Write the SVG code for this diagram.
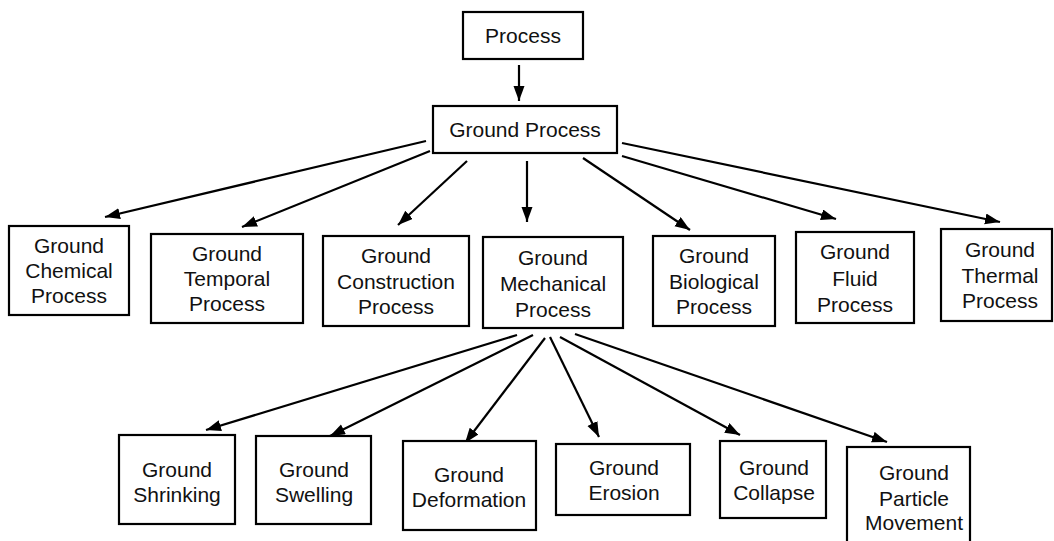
<svg xmlns="http://www.w3.org/2000/svg" width="1054" height="541" viewBox="0 0 1054 541">
<defs>
<marker id="ah" markerUnits="userSpaceOnUse" markerWidth="16" markerHeight="12" refX="15" refY="5.5" orient="auto">
<path d="M0,0 L15,5.5 L0,11 z" fill="#000"/>
</marker>
<style>
.box{fill:#fff;stroke:#000;stroke-width:2.2}
text{font-family:"Liberation Sans",Arial,Helvetica,sans-serif;font-size:21px;fill:#111;text-anchor:middle}
.c line{stroke:#000;stroke-width:2.2;marker-end:url(#ah)}
</style>
</defs>
<rect width="1054" height="541" fill="#fff"/>
<g class="c" id="connectors">
<line x1="519" y1="65" x2="519" y2="101"/>
<line x1="426" y1="141" x2="105" y2="217"/>
<line x1="430" y1="151" x2="242" y2="227"/>
<line x1="467" y1="161" x2="398" y2="225"/>
<line x1="527" y1="161" x2="527" y2="222"/>
<line x1="583" y1="158" x2="690" y2="230"/>
<line x1="622" y1="156" x2="836" y2="219"/>
<line x1="622" y1="143" x2="1000" y2="222"/>
<line x1="517" y1="335" x2="206" y2="430"/>
<line x1="533" y1="335" x2="330" y2="436"/>
<line x1="545" y1="338" x2="465" y2="443"/>
<line x1="550" y1="337" x2="599" y2="437"/>
<line x1="560" y1="337" x2="740" y2="435"/>
<line x1="575" y1="334" x2="887" y2="442"/>
</g>
<g id="process"><rect class="box" x="463" y="12" width="120" height="47"/><text x="523" y="43">Process</text></g>
<g id="ground-process"><rect class="box" x="433" y="106" width="184" height="47"/><text x="525" y="137">Ground Process</text></g>
<g id="chemical"><rect class="box" x="9" y="226" width="120" height="89"/><text x="69" y="253">Ground</text><text x="69" y="278">Chemical</text><text x="69" y="303">Process</text></g>
<g id="temporal"><rect class="box" x="151" y="234" width="152" height="89"/><text x="227" y="261">Ground</text><text x="227" y="286">Temporal</text><text x="227" y="311">Process</text></g>
<g id="construction"><rect class="box" x="323" y="236" width="146" height="90"/><text x="396" y="263">Ground</text><text x="396" y="289">Construction</text><text x="396" y="314">Process</text></g>
<g id="mechanical"><rect class="box" x="483" y="237" width="140" height="91"/><text x="553" y="265">Ground</text><text x="553" y="291">Mechanical</text><text x="553" y="317">Process</text></g>
<g id="biological"><rect class="box" x="653" y="236" width="122" height="90"/><text x="714" y="263">Ground</text><text x="714" y="289">Biological</text><text x="714" y="314">Process</text></g>
<g id="fluid"><rect class="box" x="796" y="232" width="118" height="91"/><text x="855" y="259">Ground</text><text x="855" y="286">Fluid</text><text x="855" y="312">Process</text></g>
<g id="thermal"><rect class="box" x="941" y="229" width="111" height="92"/><text x="1000" y="257">Ground</text><text x="1000" y="283">Thermal</text><text x="1000" y="308">Process</text></g>
<g id="shrinking"><rect class="box" x="119" y="435" width="116" height="89"/><text x="177" y="477">Ground</text><text x="177" y="502">Shrinking</text></g>
<g id="swelling"><rect class="box" x="256" y="436" width="115" height="88"/><text x="314" y="477">Ground</text><text x="314" y="502">Swelling</text></g>
<g id="deformation"><rect class="box" x="403" y="441" width="133" height="89"/><text x="469" y="482">Ground</text><text x="469" y="507">Deformation</text></g>
<g id="erosion"><rect class="box" x="556" y="444" width="134" height="71"/><text x="624" y="475">Ground</text><text x="624" y="500">Erosion</text></g>
<g id="collapse"><rect class="box" x="720" y="441" width="106" height="77"/><text x="774" y="475">Ground</text><text x="774" y="500">Collapse</text></g>
<g id="particle"><rect class="box" x="847" y="447" width="123" height="100"/><text x="914" y="480">Ground</text><text x="914" y="506">Particle</text><text x="914" y="530">Movement</text></g>
</svg>
